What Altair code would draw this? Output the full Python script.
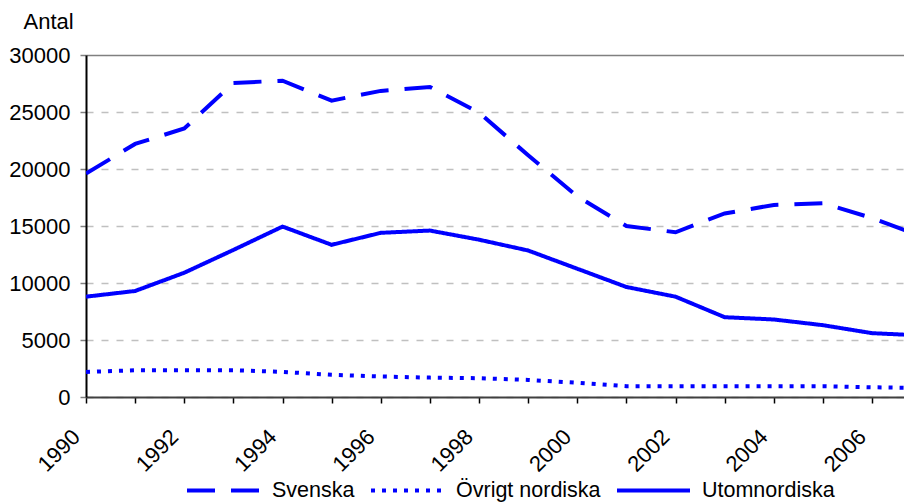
import altair as alt
import pandas as pd

years = list(range(1990, 2008))
series_names = ["Svenska", "Övrigt nordiska", "Utomnordiska"]
svenska = [19600, 22200, 23550, 27550, 27750, 26000, 26850, 27200, 24950, 21200,
           17600, 15000, 14450, 16100, 16850, 17000, 15700, 14100]
ovrigt = [2200, 2350, 2350, 2350, 2200, 1950, 1800, 1700, 1650, 1500,
          1250, 950, 950, 950, 950, 950, 850, 800]
utom = [8800, 9300, 10900, 12900, 14950, 13350, 14400, 14600, 13800, 12850,
        11250, 9650, 8800, 7000, 6800, 6300, 5600, 5400]
y_ticks = [0, 5000, 10000, 15000, 20000, 25000, 30000]
x_ticks = list(range(1990, 2007))

rows = []
for name, vals in zip(series_names, [svenska, ovrigt, utom]):
    for yr, v in zip(years, vals):
        rows.append({"year": yr, "value": v, "serie": name})
df = pd.DataFrame(rows)

FONT = "Liberation Sans"
BLUE = "#0000FF"
FS = 22

lines = alt.Chart(df).mark_line(clip=True, strokeWidth=4, color=BLUE).encode(
    x=alt.X("year:Q",
            scale=alt.Scale(domain=[1990, 2006.65], nice=False, zero=False),
            axis=alt.Axis(values=x_ticks, format="d",
                          labelExpr="datum.value % 2 == 0 ? datum.label : ''",
                          labelAngle=-45, labelAlign="right", labelBaseline="middle",
                          labelFontSize=FS, labelFont=FONT,
                          labelColor="#000000", labelPadding=30, labelOffset=-10,
                          domainColor="#404040", domainWidth=2,
                          tickColor="#000000", tickSize=6, tickWidth=1.5,
                          grid=False, title=None)),
    y=alt.Y("value:Q",
            scale=alt.Scale(domain=[0, 30000], nice=False),
            axis=alt.Axis(values=y_ticks, format="d",
                          labelFontSize=FS, labelFont=FONT, labelColor="#000000",
                          labelPadding=10,
                          domainColor="#000000", domainWidth=2,
                          tickColor="#808080", tickSize=6, tickWidth=1.5,
                          grid=True,
                          gridColor={"condition": {"test": "datum.value === 30000", "value": "#808080"}, "value": "#c0c0c0"},
                          gridDash={"condition": {"test": "datum.value === 30000", "value": []}, "value": [7, 8]},
                          gridWidth=1.5,
                          title="Antal", titleAngle=0, titleAlign="left",
                          titleBaseline="alphabetic", titleX=-63, titleY=-27,
                          titleFontSize=FS, titleFont=FONT, titleFontWeight="normal",
                          titleColor="#000000")),
    strokeDash=alt.StrokeDash("serie:N",
                              scale=alt.Scale(domain=series_names,
                                              range=[[28, 16], [4, 7], [1, 0]]),
                              legend=alt.Legend(orient="none", legendX=99, legendY=397,
                                                direction="horizontal", title=None,
                                                symbolType="stroke", symbolSize=5329,
                                                symbolStrokeWidth=4, symbolStrokeColor=BLUE,
                                                labelFontSize=21.5, labelFont=FONT,
                                                labelColor="#000000", labelOffset=10,
                                                columnPadding=8, padding=0)),
    detail="serie:N",
)

chart = lines.properties(
    width=818, height=342,
    padding={"left": 78, "top": 47, "right": 0, "bottom": 107},
    autosize=alt.AutoSizeParams(type="none"),
).configure_view(stroke=None).configure(background="white")

chart.save("out.html", embed_options={"renderer": "svg", "actions": False})
